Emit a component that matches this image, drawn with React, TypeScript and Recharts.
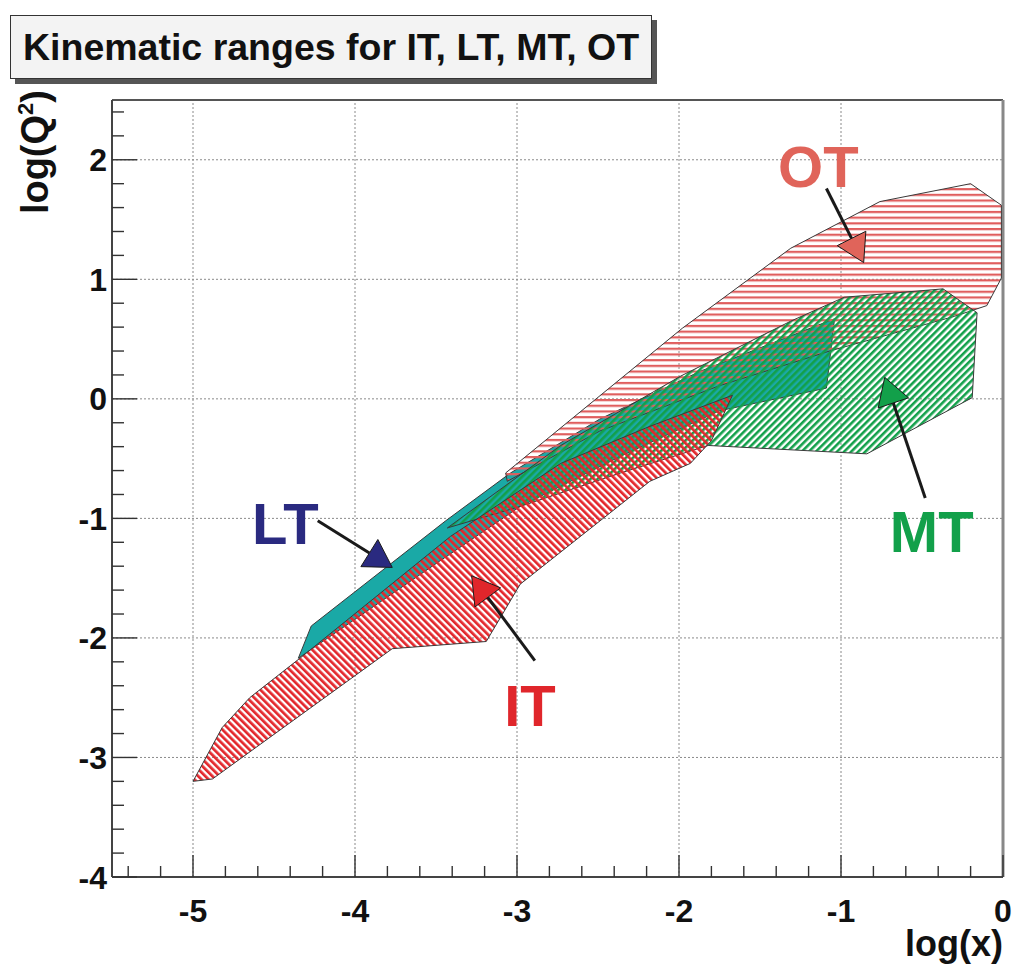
import React from 'react';
import { ScatterChart, Scatter, XAxis, YAxis, ReferenceLine, Label } from 'recharts';

// polygon outlines of the kinematic regions, log(x) / log(Q^2)
const itX = [-5.0, -4.82, -4.65, -4.34, -3.41, -2.73, -2.18, -1.67, -1.8, -1.93, -2.18, -2.98, -3.19, -3.77, -4.88];
const itY = [-3.2, -2.75, -2.5, -2.17, -1.15, -0.54, -0.23, 0.03, -0.35, -0.54, -0.69, -1.55, -2.03, -2.09, -3.18];

const ltX = [-4.35, -4.27, -3.44, -3.04, -2.49, -1.87, -1.04, -1.09, -1.75, -2.36, -2.98, -3.48];
const ltY = [-2.17, -1.9, -1.02, -0.62, -0.17, 0.23, 0.67, 0.09, -0.1, -0.48, -0.9, -1.36];

const mtX = [-3.43, -2.73, -1.99, -1.31, -0.98, -0.37, -0.16, -0.19, -0.84, -1.82, -2.36, -2.98];
const mtY = [-1.08, -0.39, 0.19, 0.65, 0.85, 0.92, 0.72, 0.01, -0.46, -0.39, -0.62, -0.9];

const otX = [-3.07, -1.98, -1.31, -0.76, -0.2, -0.01, -0.01, -0.1, -0.3, -1.07, -1.75, -2.49, -3.06];
const otY = [-0.62, 0.59, 1.26, 1.65, 1.8, 1.62, 1.01, 0.78, 0.69, 0.4, 0.11, -0.27, -0.69];

// text labels and arrows
const regionNames = ['IT', 'LT', 'MT', 'OT'];
const labelX = [-2.92, -4.43, -0.44, -1.14];
const labelY = [-2.56, -1.04, -1.11, 1.95];
const arrowTailX = [-2.89, -4.23, -0.48, -1.09];
const arrowTailY = [-2.19, -1.02, -0.83, 1.76];
const arrowTipX = [-3.28, -3.77, -0.73, -0.86];
const arrowTipY = [-1.48, -1.41, 0.18, 1.14];

const xMajor = [-5, -4, -3, -2, -1, 0];
const xTickLabels = ['-5', '-4', '-3', '-2', '-1', '0'];
const yMajor = [-4, -3, -2, -1, 0, 1, 2];
const yTickLabels = ['-4', '-3', '-2', '-1', '0', '1', '2'];

const colors: Record<string, string> = {
  IT: '#e0262b',
  LT: '#2a2a80',
  MT: '#12a04a',
  OT: '#e0645a',
};

const FONT = '"Liberation Sans", Arial, Helvetica, sans-serif';

const toPoints = (xs: number[], ys: number[]) => xs.map((x, i) => ({ x, y: ys[i] }));

// minor ticks every 0.2
const makeTicks = (from: number, to: number) => {
  const out: number[] = [];
  for (let i = Math.round(from * 5); i <= Math.round(to * 5); i++) out.push(Math.round(i * 2) / 10);
  return out;
};
const xTicks = makeTicks(-5.4, 0);
const yTicks = makeTicks(-4, 2.4);

const majorIndex = (list: number[], v: number) => list.findIndex((m) => Math.abs(m - v) < 1e-6);

const XTick = (props: any) => {
  const { x, y, payload } = props;
  const idx = majorIndex(xMajor, payload.value);
  const major = idx >= 0;
  return (
    <g>
      <line x1={x} y1={y} x2={x} y2={y - (major ? 22 : 11)} stroke="#333" strokeWidth={1.4} />
      {major && (
        <text x={x} y={y + 45} textAnchor="middle" fontFamily={FONT} fontWeight="bold" fontSize={32} fill="#111">
          {xTickLabels[idx]}
        </text>
      )}
    </g>
  );
};

const YTick = (props: any) => {
  const { x, y, payload } = props;
  const idx = majorIndex(yMajor, payload.value);
  const major = idx >= 0;
  return (
    <g>
      <line x1={x} y1={y} x2={x + (major ? 25 : 12)} y2={y} stroke="#333" strokeWidth={1.4} />
      {major && (
        <text x={x - 5} y={y} dy="0.36em" textAnchor="end" fontFamily={FONT} fontWeight="bold" fontSize={32} fill="#111">
          {yTickLabels[idx]}
        </text>
      )}
    </g>
  );
};

const XTitle = (props: any) => {
  const vb = props.viewBox;
  return (
    <text x={vb.x + vb.width} y={vb.y + 79} textAnchor="end" fontFamily={FONT} fontWeight="bold" fontSize={36} fill="#111">
      log(x)
    </text>
  );
};

const YTitle = (props: any) => {
  const vb = props.viewBox;
  const tx = vb.x + 16;
  const ty = vb.y - 10;
  return (
    <text transform={`translate(${tx},${ty}) rotate(-90)`} textAnchor="end" fontFamily={FONT} fontWeight="bold" fontSize={38} fill="#111">
      log(Q<tspan dy={-15} fontSize={22}>2</tspan>
      <tspan dy={15}>)</tspan>
    </text>
  );
};

const noDot = () => <g />;

const polygonLine = (fill: string) => (props: any) => {
  const pts = (props.points || []).map((p: any) => `${p.x},${p.y}`).join(' ');
  return <polygon points={pts} fill={fill} stroke="#3a3a3a" strokeWidth={1} />;
};

const HEAD_LEN = 27;
const HEAD_HALF = 16;

const arrowLine = (color: string) => (props: any) => {
  const pts = props.points || [];
  if (pts.length < 2) return <g />;
  const [t, p] = pts;
  const dx = p.x - t.x;
  const dy = p.y - t.y;
  const len = Math.hypot(dx, dy) || 1;
  const ux = dx / len;
  const uy = dy / len;
  const bx = p.x - ux * HEAD_LEN;
  const by = p.y - uy * HEAD_LEN;
  const nx = -uy;
  const ny = ux;
  return (
    <g>
      <line x1={t.x} y1={t.y} x2={bx} y2={by} stroke="#1a1a1a" strokeWidth={3} />
      <polygon
        points={`${p.x},${p.y} ${bx + nx * HEAD_HALF},${by + ny * HEAD_HALF} ${bx - nx * HEAD_HALF},${by - ny * HEAD_HALF}`}
        fill={color}
        stroke="#1a1a1a"
        strokeWidth={1}
      />
    </g>
  );
};

const TextShape = (props: any) => {
  const { cx, cy, payload } = props;
  return (
    <text x={cx} y={cy} dy="0.36em" textAnchor="middle" fontFamily={FONT} fontWeight="bold" fontSize={58} fill={colors[payload.name]}>
      {payload.name}
    </text>
  );
};

const labelPoints = regionNames.map((name, i) => ({ x: labelX[i], y: labelY[i], name }));

export default function App() {
  return (
    <div style={{ position: 'absolute', left: 0, top: 0, width: 1020, height: 973, background: '#fff' }}>
      <ScatterChart width={1020} height={973} margin={{ top: 100, right: 17, bottom: 36, left: 32 }}>
        <defs>
          <pattern id="itHatch" patternUnits="userSpaceOnUse" width={5} height={5} patternTransform="rotate(-45)">
            <rect x={0} y={0} width={2.7} height={5} fill="#e3262b" />
          </pattern>
          <pattern id="mtHatch" patternUnits="userSpaceOnUse" width={5} height={5} patternTransform="rotate(45)">
            <rect x={0} y={0} width={2.6} height={5} fill="#12a04a" />
          </pattern>
          <pattern id="otHatch" patternUnits="userSpaceOnUse" width={6} height={5.7}>
            <rect x={0} y={0} width={6} height={2.2} fill="#e05e5e" />
          </pattern>
        </defs>
        <XAxis
          type="number"
          dataKey="x"
          domain={[-5.5, 0]}
          allowDataOverflow
          ticks={xTicks}
          interval={0}
          height={60}
          tickSize={0}
          tickMargin={0}
          tickLine={false}
          tick={<XTick />}
          axisLine={{ stroke: '#444', strokeWidth: 2 }}
        >
          <Label content={XTitle} />
        </XAxis>
        <YAxis
          type="number"
          dataKey="y"
          domain={[-4, 2.5]}
          allowDataOverflow
          ticks={yTicks}
          interval={0}
          width={80}
          tickSize={0}
          tickMargin={0}
          tickLine={false}
          tick={<YTick />}
          axisLine={{ stroke: '#444', strokeWidth: 2 }}
        >
          <Label content={YTitle} />
        </YAxis>
        {xMajor.slice(0, -1).map((v) => (
          <ReferenceLine key={`gx${v}`} x={v} stroke="#8a8a8a" strokeWidth={1} strokeDasharray="2 2" />
        ))}
        {yMajor.slice(1).map((v) => (
          <ReferenceLine key={`gy${v}`} y={v} stroke="#8a8a8a" strokeWidth={1} strokeDasharray="2 2" />
        ))}
        <ReferenceLine y={2.5} stroke="#555" strokeWidth={2} />
        <ReferenceLine x={0} stroke="#888" strokeWidth={3} />

        <Scatter data={toPoints(ltX, ltY)} line={polygonLine('#1aa9a6')} lineType="joint" shape={noDot} isAnimationActive={false} />
        <Scatter data={toPoints(otX, otY)} line={polygonLine('url(#otHatch)')} lineType="joint" shape={noDot} isAnimationActive={false} />
        <Scatter data={toPoints(mtX, mtY)} line={polygonLine('url(#mtHatch)')} lineType="joint" shape={noDot} isAnimationActive={false} />
        <Scatter data={toPoints(itX, itY)} line={polygonLine('url(#itHatch)')} lineType="joint" shape={noDot} isAnimationActive={false} />

        {regionNames.map((name, i) => (
          <Scatter
            key={`arrow-${name}`}
            data={[
              { x: arrowTailX[i], y: arrowTailY[i] },
              { x: arrowTipX[i], y: arrowTipY[i] },
            ]}
            line={arrowLine(colors[name])}
            lineType="joint"
            shape={noDot}
            isAnimationActive={false}
          />
        ))}
        <Scatter data={labelPoints} shape={TextShape} isAnimationActive={false} />
      </ScatterChart>
      <div
        style={{
          position: 'absolute',
          left: 10,
          top: 15,
          width: 642,
          height: 64,
          boxSizing: 'border-box',
          background: '#f3f3f3',
          border: '1px solid #333',
          boxShadow: '5px 5px 0 #555',
          display: 'flex',
          alignItems: 'center',
          paddingLeft: 12,
          fontFamily: FONT,
          fontWeight: 'bold',
          fontSize: 37.5,
          color: '#111',
          whiteSpace: 'nowrap',
        }}
      >
        Kinematic ranges for IT, LT, MT, OT
      </div>
    </div>
  );
}
